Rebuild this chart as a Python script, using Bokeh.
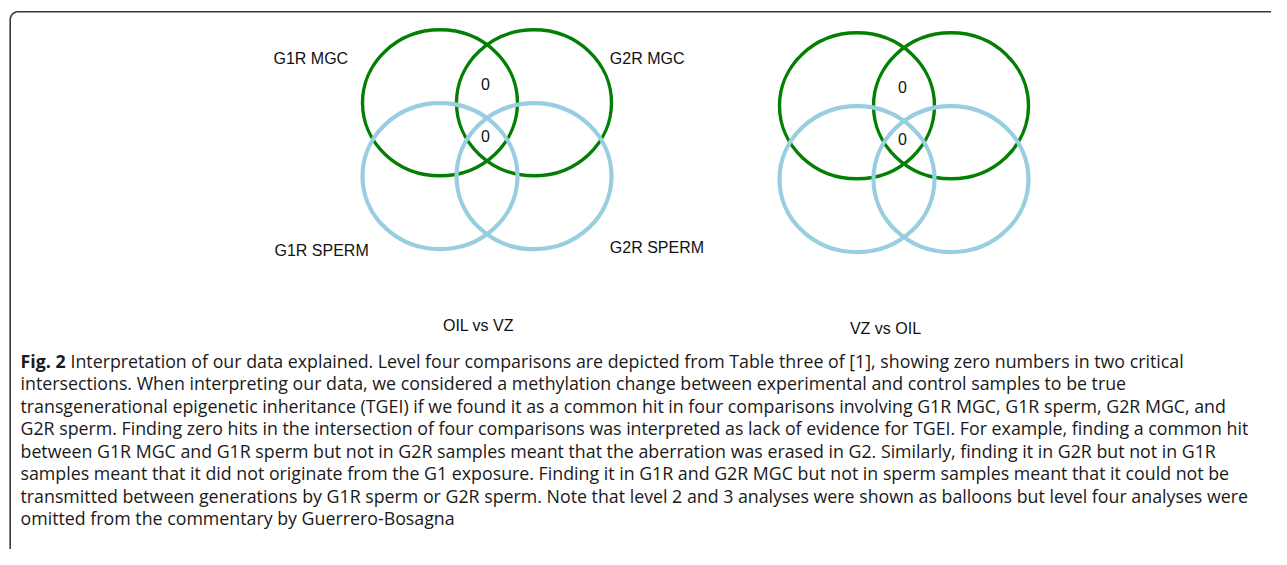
import numpy as np
from bokeh.plotting import figure
from bokeh.models import Range1d
from bokeh.core.properties import value
from bokeh.embed import file_html
from bokeh.resources import INLINE

# ---------------- data ----------------
set_names = ["G1R MGC", "G2R MGC", "G1R SPERM", "G2R SPERM"]
set_kinds = ["MGC", "MGC", "SPERM", "SPERM"]
panel_titles = ["OIL vs VZ", "VZ vs OIL"]
# shown intersection counts per panel: [G1R MGC ∩ G2R MGC, all four]
oil_vs_vz_counts = [0, 0]
vz_vs_oil_counts = [0, 0]
caption_bold = "Fig. 2"
caption_first_rest = ("Interpretation of our data explained. Level four comparisons are depicted "
                      "from Table three of [1], showing zero numbers in two critical")
caption_lines = [
    "intersections. When interpreting our data, we considered a methylation change between experimental and control samples to be true",
    "transgenerational epigenetic inheritance (TGEI) if we found it as a common hit in four comparisons involving G1R MGC, G1R sperm, G2R MGC, and",
    "G2R sperm. Finding zero hits in the intersection of four comparisons was interpreted as lack of evidence for TGEI. For example, finding a common hit",
    "between G1R MGC and G1R sperm but not in G2R samples meant that the aberration was erased in G2. Similarly, finding it in G2R but not in G1R",
    "samples meant that it did not originate from the G1 exposure. Finding it in G1R and G2R MGC but not in sperm samples meant that it could not be",
    "transmitted between generations by G1R sperm or G2R sperm. Note that level 2 and 3 analyses were shown as balloons but level four analyses were",
    "omitted from the commentary by Guerrero-Bosagna",
]

# ---------------- layout (pixel space) ----------------
W, H = 1271, 549

kind_color = {"MGC": "#038003", "SPERM": "#98CEDF"}
kind_width = {"MGC": 3.4, "SPERM": 4.2}
set_grid = [(-1, -1), (1, -1), (-1, 1), (1, 1)]  # column, row of each set
half_dx, half_dy = 47.0, 36.7
ell_w, ell_h = 155.0, 146.0

panel_centres = [(486.5, 139.0), (903.5, 142.0)]
title_dx = [-8.5, -18.5]
title_dy = 185.5
label_offsets = [(-213.5, -80.7), (122.8, -81.5), (-212.5, 111.0), (122.8, 107.5)]
count_offsets = [(-1.5, -55.2), (-1.5, -3.5)]
panel_counts = [oil_vs_vz_counts, vz_vs_oil_counts]

p = figure(width=W, height=H, output_backend="svg", toolbar_location=None,
           x_range=Range1d(0, W), y_range=Range1d(H, 0),
           min_border=0, min_border_left=0, min_border_right=0,
           min_border_top=0, min_border_bottom=0)
p.axis.visible = False
p.grid.visible = False
p.outline_line_color = None
p.background_fill_color = "white"
p.border_fill_color = "white"

# frame (top and left border with rounded corner)
r = 8.0
x0, y0 = 9.7, 11.2
t = np.linspace(np.pi, 1.5 * np.pi, 12)
arc_x = list(x0 + r + r * np.cos(t))
arc_y = list(y0 + r + r * np.sin(t))
frame_x = [x0, x0] + arc_x + [W + 5]
frame_y = [H + 5, y0 + r] + arc_y + [y0]
p.line(frame_x, frame_y, line_color="#3a3a3a", line_width=1.6)

for pi_, (cx, cy) in enumerate(panel_centres):
    for kind in ["MGC", "SPERM"]:
        xs, ys = [], []
        for name, k, (gc, gr) in zip(set_names, set_kinds, set_grid):
            if k == kind:
                xs.append(cx + gc * half_dx)
                ys.append(cy + gr * half_dy)
        p.ellipse(x=xs, y=ys, width=ell_w, height=ell_h, fill_color=None,
                  line_color=kind_color[kind], line_width=kind_width[kind])
    cnt = panel_counts[pi_]
    p.text(x=[cx + ox for ox, oy in count_offsets],
           y=[cy + oy for ox, oy in count_offsets],
           text=[str(c) for c in cnt], text_font=value("Liberation Sans"),
           text_font_size="16px", text_align="center", text_baseline="middle",
           text_color="#111111")
    p.text(x=[cx + title_dx[pi_]], y=[cy + title_dy], text=[panel_titles[pi_]],
           text_font=value("Liberation Sans"), text_font_size="16px",
           text_align="center", text_baseline="middle", text_color="#111111")

# set labels (left panel only)
cx, cy = panel_centres[0]
p.text(x=[cx + ox for ox, oy in label_offsets],
       y=[cy + oy for ox, oy in label_offsets],
       text=set_names, text_font=value("Liberation Sans"), text_font_size="16px",
       text_align="left", text_baseline="middle", text_color="#111111")

# caption
cap_x = 20.0
cap_y0 = 360.5
cap_dy = 22.45
cap_font = value("Open Sans")
cap_size = "17.8px"
p.text(x=[cap_x], y=[cap_y0], text=[caption_bold], text_font=cap_font,
       text_font_size=cap_size, text_font_style="bold", text_align="left",
       text_baseline="middle", text_color="#1a1a1a")
p.text(x=[70.0], y=[cap_y0], text=[caption_first_rest], text_font=cap_font,
       text_font_size=cap_size, text_align="left", text_baseline="middle",
       text_color="#1a1a1a")
p.text(x=[cap_x] * len(caption_lines),
       y=[cap_y0 + cap_dy * (i + 1) for i in range(len(caption_lines))],
       text=caption_lines, text_font=cap_font, text_font_size=cap_size,
       text_align="left", text_baseline="middle", text_color="#1a1a1a")

open("out.html", "w").write(file_html(p, INLINE))
